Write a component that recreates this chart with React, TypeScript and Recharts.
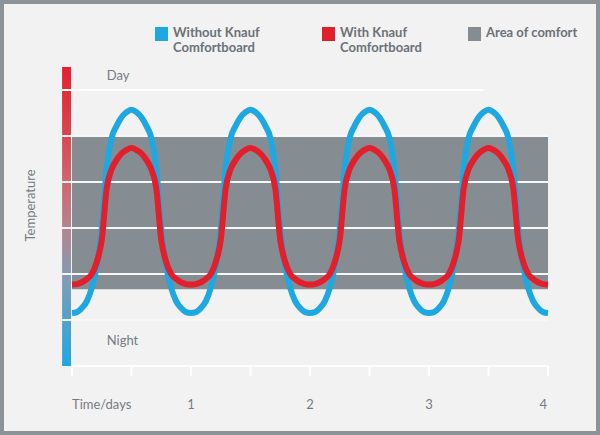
import React from 'react';
import {
  ComposedChart,
  Line,
  XAxis,
  YAxis,
  ReferenceArea,
  ReferenceLine,
  Legend,
  Label,
} from 'recharts';

// Time in hours (one sample per hour over four days)
const hours = [
  0, 1, 2, 3, 4, 5, 6, 7, 8, 9, 10, 11, 12, 13, 14, 15, 16, 17, 18, 19, 20, 21, 22, 23,
  24, 25, 26, 27, 28, 29, 30, 31, 32, 33, 34, 35, 36, 37, 38, 39, 40, 41, 42, 43, 44, 45, 46, 47,
  48, 49, 50, 51, 52, 53, 54, 55, 56, 57, 58, 59, 60, 61, 62, 63, 64, 65, 66, 67, 68, 69, 70, 71,
  72, 73, 74, 75, 76, 77, 78, 79, 80, 81, 82, 83, 84, 85, 86, 87, 88, 89, 90, 91, 92, 93, 94, 95,
  96,
];

// Temperature without Knauf Comfortboard (relative units)
const withoutBoard = [
  1.15, 1.17, 1.26, 1.41, 1.70, 2.17, 3.00, 4.30, 4.96, 5.22, 5.41, 5.52, 5.57, 5.52, 5.41, 5.22, 4.96, 4.30, 3.00, 2.17, 1.70, 1.41, 1.26, 1.17,
  1.15, 1.17, 1.26, 1.41, 1.70, 2.17, 3.00, 4.30, 4.96, 5.22, 5.41, 5.52, 5.57, 5.52, 5.41, 5.22, 4.96, 4.30, 3.00, 2.17, 1.70, 1.41, 1.26, 1.17,
  1.15, 1.17, 1.26, 1.41, 1.70, 2.17, 3.00, 4.30, 4.96, 5.22, 5.41, 5.52, 5.57, 5.52, 5.41, 5.22, 4.96, 4.30, 3.00, 2.17, 1.70, 1.41, 1.26, 1.17,
  1.15, 1.17, 1.26, 1.41, 1.70, 2.17, 3.00, 4.30, 4.96, 5.22, 5.41, 5.52, 5.57, 5.52, 5.41, 5.22, 4.96, 4.30, 3.00, 2.17, 1.70, 1.41, 1.26, 1.17,
  1.15,
];

// Temperature with Knauf Comfortboard (relative units)
const withBoard = [
  1.77, 1.78, 1.82, 1.89, 2.00, 2.26, 2.74, 3.86, 4.28, 4.48, 4.62, 4.70, 4.74, 4.70, 4.62, 4.48, 4.28, 3.86, 2.74, 2.26, 2.00, 1.89, 1.82, 1.78,
  1.77, 1.78, 1.82, 1.89, 2.00, 2.26, 2.74, 3.86, 4.28, 4.48, 4.62, 4.70, 4.74, 4.70, 4.62, 4.48, 4.28, 3.86, 2.74, 2.26, 2.00, 1.89, 1.82, 1.78,
  1.77, 1.78, 1.82, 1.89, 2.00, 2.26, 2.74, 3.86, 4.28, 4.48, 4.62, 4.70, 4.74, 4.70, 4.62, 4.48, 4.28, 3.86, 2.74, 2.26, 2.00, 1.89, 1.82, 1.78,
  1.77, 1.78, 1.82, 1.89, 2.00, 2.26, 2.74, 3.86, 4.28, 4.48, 4.62, 4.70, 4.74, 4.70, 4.62, 4.48, 4.28, 3.86, 2.74, 2.26, 2.00, 1.89, 1.82, 1.78,
  1.77,
];

const xTicks = [0, 12, 24, 36, 48, 60, 72, 84, 96];
const xTickLabels: Record<number, string> = { 0: 'Time/days', 24: '1', 48: '2', 72: '3', 96: '4' };
const comfortLow = 1.67;
const comfortHigh = 5;
const gridLevels = [1, 2, 3, 4, 5];
const topLevel = 6;
const topLevelEnd = 83;
const yMax = 6.5;
const barStart = -2;

const legendNames = [
  ['Without Knauf', 'Comfortboard'],
  ['With Knauf', 'Comfortboard'],
  ['Area of comfort'],
];
const BLUE = '#1ea8e1';
const RED = '#e31f2b';
const BAND = '#858d93';
const legendColors = [BLUE, RED, BAND];

const TEXT = '#757b81';
const FONT = 'Lato, "Open Sans", sans-serif';

const data = hours.map((h, i) => ({ hour: h, without: withoutBoard[i], with: withBoard[i] }));

const XTick = (props: any) => {
  const { x, y, payload } = props;
  const label = xTickLabels[payload.value];
  if (!label) return <g />;
  const isFirst = payload.value === 0;
  const isLast = payload.value === 96;
  return (
    <text
      x={x + (isLast ? -1 : 0)}
      y={y}
      dy={31}
      textAnchor={isFirst ? 'start' : isLast ? 'end' : 'middle'}
      fill={TEXT}
      fontSize={13}
      fontFamily={FONT}
    >
      {label}
    </text>
  );
};

const TempLabel = (props: any) => {
  const vb = props.viewBox || { x: 0, y: 67, width: 72, height: 299 };
  const cx = vb.x + 30;
  const cy = vb.y + vb.height / 2 - 11;
  return (
    <text
      x={cx}
      y={cy}
      textAnchor="middle"
      dominantBaseline="central"
      transform={`rotate(-90 ${cx} ${cy})`}
      fill={TEXT}
      fontSize={13}
      fontFamily={FONT}
    >
      Temperature
    </text>
  );
};

const legendLeft = [155, 322, 468];

const LegendBox = () => (
  <div style={{ position: 'relative', width: 600, height: 60 }}>
    {legendNames.map((lines, i) => (
      <div key={i} style={{ position: 'absolute', left: legendLeft[i], top: 27 }}>
        <div
          style={{
            position: 'absolute',
            left: 0,
            top: 0,
            width: 13,
            height: 14,
            background: legendColors[i],
          }}
        />
        <div
          style={{
            position: 'absolute',
            left: 18,
            top: -2,
            whiteSpace: 'nowrap',
            fontFamily: FONT,
            fontWeight: 700,
            fontSize: 13,
            lineHeight: '15px',
            color: '#6b7177',
          }}
        >
          {lines.map((l, j) => (
            <div key={j}>{l}</div>
          ))}
        </div>
      </div>
    ))}
  </div>
);

export default function App() {
  return (
    <div
      style={{
        position: 'absolute',
        left: 0,
        top: 0,
        width: 600,
        height: 435,
        background: '#f2f2f2',
        boxShadow: 'inset 0 0 0 4px #8b9399',
      }}
    >
      <ComposedChart
        width={600}
        height={435}
        data={data}
        margin={{ top: 67, right: 52, left: 0, bottom: 29 }}
      >
        <defs>
          <linearGradient id="tempBar" x1="0" y1="0" x2="0" y2="1">
            <stop offset="0%" stopColor="#e4212e" />
            <stop offset="18%" stopColor="#dc3d48" />
            <stop offset="40%" stopColor="#cc6a74" />
            <stop offset="55%" stopColor="#b08791" />
            <stop offset="72%" stopColor="#7f9cb8" />
            <stop offset="100%" stopColor="#1ea8e1" />
          </linearGradient>
        </defs>
        <XAxis
          dataKey="hour"
          type="number"
          domain={[0, 96]}
          ticks={xTicks}
          axisLine={{ stroke: '#ffffff', strokeWidth: 2 }}
          tickLine={{ stroke: '#ffffff', strokeWidth: 2 }}
          tickSize={10}
          tick={<XTick />}
          height={40}
          interval={0}
        />
        <YAxis
          type="number"
          domain={[0, yMax]}
          width={72}
          tick={false}
          axisLine={false}
          tickLine={false}
        >
          <Label content={<TempLabel />} />
        </YAxis>
        <Legend
          verticalAlign="middle"
          layout="horizontal"
          wrapperStyle={{ top: 0, left: 0, width: 600, height: 60 }}
          content={() => <LegendBox />}
        />
        <ReferenceArea
          x1={barStart}
          x2={-0.2}
          y1={0}
          y2={yMax}
          fill="url(#tempBar)"
          fillOpacity={1}
          stroke="none"
          ifOverflow="visible"
        />
        <ReferenceArea
          x1={0}
          x2={96}
          y1={comfortLow}
          y2={comfortHigh}
          fill={BAND}
          fillOpacity={1}
          stroke="none"
          ifOverflow="visible"
        />
        {gridLevels.map((lvl) => (
          <ReferenceLine
            key={lvl}
            segment={[
              { x: barStart, y: lvl },
              { x: 96, y: lvl },
            ]}
            stroke="#f7f7f7"
            strokeWidth={2}
            ifOverflow="visible"
          />
        ))}
        <ReferenceLine
          segment={[
            { x: barStart, y: topLevel },
            { x: topLevelEnd, y: topLevel },
          ]}
          stroke="#ffffff"
          strokeWidth={2}
          ifOverflow="visible"
        />
        <ReferenceArea
          x1={7}
          x2={20}
          y1={6.15}
          y2={6.5}
          fill="none"
          stroke="none"
          ifOverflow="visible"
          label={{ value: 'Day', position: 'insideLeft', offset: 0, fill: TEXT, fontSize: 13, fontFamily: FONT }}
        />
        <ReferenceArea
          x1={7}
          x2={20}
          y1={0.4}
          y2={0.7}
          fill="none"
          stroke="none"
          ifOverflow="visible"
          label={{ value: 'Night', position: 'insideLeft', offset: 0, fill: TEXT, fontSize: 13, fontFamily: FONT }}
        />
        <Line
          dataKey="without"
          type="monotone"
          stroke={BLUE}
          strokeWidth={6}
          dot={false}
          activeDot={false}
          isAnimationActive={false}
        />
        <Line
          dataKey="with"
          type="monotone"
          stroke={RED}
          strokeWidth={6}
          dot={false}
          activeDot={false}
          isAnimationActive={false}
        />
      </ComposedChart>
    </div>
  );
}
